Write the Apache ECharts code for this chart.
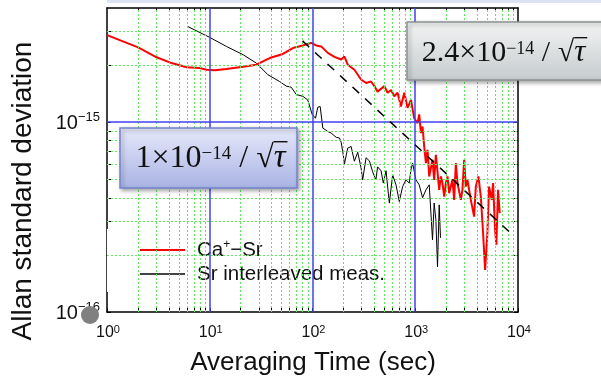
<!DOCTYPE html>
<html>
<head>
<meta charset="utf-8">
<script src="https://cdn.jsdelivr.net/npm/echarts@6/dist/echarts.min.js"></script>
<style>
  html, body { margin: 0; padding: 0; background: #fff; }
  #chart { width: 601px; height: 378px; }
</style>
</head>
<body>
<div id="chart"></div>
<script>
// Allan deviation of the Ca+ - Sr comparison and of the Sr interleaved measurement
const tauCaSr = [1, 2.01, 3.04, 4.25, 5.94, 8.0, 9.29, 11.2, 14.5, 21.1, 28.4, 38.3, 51.5, 64.4, 80.5, 97.1,
  108.6, 121.4, 140.8, 163.6, 190, 204.6, 220.2, 255.7, 297, 332, 371, 400, 430, 500, 538, 581, 625, 673,
  726, 782, 842, 908, 977, 1053, 1093, 1136, 1178, 1222, 1270, 1316, 1368, 1472, 1528, 1588, 1710, 1777,
  1841, 1914, 1986, 2060, 2138, 2302, 2392, 2484, 2575, 2780, 2879, 2992, 3105, 3220, 3475, 3741, 3884,
  4120, 4345, 4573, 4784, 5036, 5226, 5556, 5716, 5983, 6156, 6397, 6642];
const sigmaCaSr = [2.88e-15, 2.48e-15, 2.20e-15, 2.05e-15, 1.95e-15, 1.93e-15, 1.89e-15, 1.88e-15, 1.91e-15,
  1.96e-15, 2.01e-15, 2.18e-15, 2.29e-15, 2.46e-15, 2.54e-15, 2.62e-15, 2.54e-15, 2.51e-15, 2.32e-15,
  2.21e-15, 2.14e-15, 2.22e-15, 2.01e-15, 1.89e-15, 1.68e-15, 1.61e-15, 1.64e-15, 1.55e-15, 1.45e-15,
  1.55e-15, 1.43e-15, 1.48e-15, 1.37e-15, 1.43e-15, 1.21e-15, 1.43e-15, 1.19e-15, 1.31e-15, 1.05e-15,
  0.99e-15, 1.10e-15, 0.877e-15, 0.95e-15, 0.745e-15, 0.609e-15, 0.716e-15, 0.518e-15, 0.634e-15,
  0.497e-15, 0.674e-15, 0.440e-15, 0.518e-15, 0.478e-15, 0.406e-15, 0.478e-15, 0.518e-15, 0.423e-15,
  0.497e-15, 0.390e-15, 0.609e-15, 0.478e-15, 0.390e-15, 0.440e-15, 0.634e-15, 0.458e-15, 0.497e-15,
  0.390e-15, 0.318e-15, 0.458e-15, 0.518e-15, 0.406e-15, 0.260e-15, 0.1665e-15, 0.260e-15, 0.458e-15,
  0.390e-15, 0.478e-15, 0.271e-15, 0.226e-15, 0.440e-15, 0.332e-15];

const tauSr = [6.07, 10.0, 14.5, 21.1, 28.4, 36.8, 47.8, 55.6, 62.1, 69.5, 80.5, 90.0, 99.3, 107, 112.5,
  118.8, 126, 140.8, 152, 170, 183, 190, 197, 204.6, 220.2, 237.6, 255.7, 275.4, 297, 307.7, 332, 357.5,
  385, 414, 430, 464.5, 489, 519.6, 559.5, 602.6, 649.6, 699.6, 753.4, 812, 874, 908, 942, 1016, 1093,
  1178, 1270, 1368, 1472, 1528, 1588, 1647, 1710, 1761];
const sigmaSr = [3.20e-15, 2.80e-15, 2.51e-15, 2.27e-15, 2.05e-15, 1.78e-15, 1.64e-15, 1.55e-15, 1.53e-15,
  1.40e-15, 1.37e-15, 1.31e-15, 1.10e-15, 1.05e-15, 1.20e-15, 1.21e-15, 0.932e-15, 0.894e-15, 0.877e-15,
  0.833e-15, 0.826e-15, 0.784e-15, 0.701e-15, 0.604e-15, 0.731e-15, 0.745e-15, 0.623e-15, 0.695e-15,
  0.575e-15, 0.497e-15, 0.650e-15, 0.626e-15, 0.548e-15, 0.497e-15, 0.582e-15, 0.555e-15, 0.478e-15,
  0.555e-15, 0.375e-15, 0.528e-15, 0.468e-15, 0.382e-15, 0.458e-15, 0.497e-15, 0.478e-15, 0.561e-15,
  0.609e-15, 0.497e-15, 0.468e-15, 0.400e-15, 0.440e-15, 0.468e-15, 0.240e-15, 0.375e-15, 0.306e-15,
  0.173e-15, 0.367e-15, 0.246e-15];

// white-frequency-noise guide line: sigma = FIT_COEF / sqrt(tau)
const FIT_COEF = 2.4e-14;
const fitTau = [80, 8200];

// axis decades and log-paper subdivisions
const xDecades = [1, 10, 100, 1000, 10000];
const yDecades = [1e-16, 1e-15];
const mantissas = [2, 3, 4, 5, 6, 7, 8, 9];
const X_MIN = 1, X_MAX = 1e4, Y_MIN = 1e-16, Y_MAX = 4e-15;

const xMinor = [];
[1, 10, 100, 1000].forEach(d => mantissas.forEach(m => xMinor.push(m * d)));
const yMinor = [];
[1e-16, 1e-15].forEach(d => mantissas.forEach(m => { if (m * d < Y_MAX * 0.999) yMinor.push(m * d); }));
const xInnerMajor = xDecades.slice(1, -1);
const yInnerMajor = [1e-15];

const pairs = (xs, ys) => xs.map((x, i) => [x, ys[i]]);
const fitData = fitTau.map(t => [t, FIT_COEF / Math.sqrt(t)]);

const exponentOf = v => Math.round(Math.log10(v));
const expText = v => { const e = exponentOf(v); return e < 0 ? '\u2212' + (-e) : String(e); };

const SANS_NAME = 'Liberation Sans';
const SERIF_NAME = 'Liberation Serif';
const SANS = '"Liberation Sans", Arial, sans-serif';

const gridLine = (list, key, style) => list.map(v => ({ [key]: v, lineStyle: style }));
const greenDot = { color: '#5ee85e', width: 1, type: [2, 2] };
const blueLine = { color: '#4040f2', width: 1.5, type: 'solid' };

const chart = echarts.init(document.getElementById('chart'), null, { renderer: 'canvas' });

const tickStyle = { show: true, inside: true, length: 4, lineStyle: { color: '#000', width: 1 } };
const frameAxis = (extra) => Object.assign({
  axisLine: { show: true, lineStyle: { color: '#000', width: 1.5 } },
  axisLabel: { show: false }, splitLine: { show: false }, minorTick: { show: false }
}, extra);

chart.setOption({
  animation: false,
  backgroundColor: '#fff',
  grid: { left: 107, right: 83, top: 8, bottom: 66, outerBoundsMode: 'none', containLabel: false },
  xAxis: [
    frameAxis({ type: 'log', logBase: 10, min: X_MIN, max: X_MAX, position: 'bottom',
      axisTick: Object.assign({ customValues: xMinor.concat(xDecades) }, tickStyle) }),
    frameAxis({ type: 'log', logBase: 10, min: X_MIN, max: X_MAX, position: 'top',
      axisTick: Object.assign({ customValues: xMinor }, tickStyle) })
  ],
  yAxis: [
    frameAxis({ type: 'log', logBase: 10, min: Y_MIN, max: Y_MAX, position: 'left',
      axisTick: Object.assign({ customValues: yMinor.concat(yDecades) }, tickStyle) }),
    frameAxis({ type: 'log', logBase: 10, min: Y_MIN, max: Y_MAX, position: 'right',
      axisTick: Object.assign({ customValues: yMinor.concat(yDecades) }, tickStyle) })
  ],
  legend: {
    data: [
      { name: 'Ca+\u2212Sr', icon: 'rect', itemStyle: { color: '#ff0000' } },
      { name: 'Sr interleaved meas.', icon: 'rect', itemStyle: { color: '#444' } }
    ],
    orient: 'vertical', left: 107, top: 229,
    backgroundColor: '#fff', padding: [10, 29, 7, 33],
    itemWidth: 45, itemHeight: 2, itemGap: 2,
    formatter: name => name === 'Ca+\u2212Sr' ? '{n|Ca}{s|+}{n|\u2212Sr}' : '{n|' + name + '}',
    textStyle: {
      color: '#111', fontFamily: SANS, fontSize: 20.5, lineHeight: 22,
      rich: {
        n: { fontFamily: SANS, fontSize: 20.5, color: '#111', lineHeight: 22, verticalAlign: 'bottom' },
        s: { fontFamily: SANS, fontSize: 12, color: '#111', lineHeight: 12, verticalAlign: 'top' }
      },
      padding: [0, 0, 0, 7]
    }
  },
  series: [
    {
      // log-paper grid
      type: 'line', data: [], silent: true, z: 1, xAxisIndex: 0, yAxisIndex: 0,
      markLine: {
        silent: true, symbol: 'none', label: { show: false }, animation: false, precision: 20,
        data: [].concat(
          gridLine(xMinor, 'xAxis', greenDot),
          gridLine(yMinor, 'yAxis', greenDot),
          gridLine(xInnerMajor, 'xAxis', blueLine),
          gridLine(yInnerMajor, 'yAxis', blueLine)
        )
      }
    },
    {
      name: 'Ca+\u2212Sr', type: 'line', data: pairs(tauCaSr, sigmaCaSr), z: 4,
      showSymbol: false, symbol: 'none', smooth: false,
      lineStyle: { color: '#ff0000', width: 2 }, itemStyle: { color: '#ff0000' }
    },
    {
      name: 'Sr interleaved meas.', type: 'line', data: pairs(tauSr, sigmaSr), z: 3,
      showSymbol: false, symbol: 'none',
      lineStyle: { color: '#000', width: 1 }, itemStyle: { color: '#444' }
    },
    {
      type: 'line', data: fitData, z: 5, showSymbol: false, symbol: 'none', silent: true,
      lineStyle: { color: '#000', width: 1.5, type: [9, 8] }
    }
  ]
});

// ---- text drawn on top of the chart: tick labels, titles and formula boxes ----
const measureCtx = document.createElement('canvas').getContext('2d');
measureCtx.textBaseline = 'middle';
const cssFont = (family, size, italic) => (italic ? 'italic ' : '') + size + 'px "' + family + '"';
const measure = (text, family, size, italic) => {
  measureCtx.font = cssFont(family, size, italic);
  return measureCtx.measureText(text);
};
const textEl = (text, x, y, family, size, italic, z) => ({
  type: 'text', z: z || 100, x: x, y: y,
  style: { text: text, fontFamily: family, fontSize: size, fontStyle: italic ? 'italic' : 'normal',
           fill: '#111', align: 'left', verticalAlign: 'middle' }
});

// power-of-ten tick label: "10" with a raised exponent
function powerLabel(v, x, y, size, expSize, align, lift) {
  const e = expText(v);
  const wBase = measure('10', SANS_NAME, size).width, wSup = measure(e, SANS_NAME, expSize).width;
  const total = wBase + wSup;
  const left = align === 'right' ? x - total : x - total / 2;
  return [
    textEl('10', left, y, SANS_NAME, size),
    textEl(e, left + wBase, y - lift, SANS_NAME, expSize)
  ];
}

// "c x 10^-14 / sqrt(tau)" with a drawn vinculum over tau
function formula(coef, cx, cy, size, expSize) {
  const parts = [
    [coef + '\u00d710', size, false, 0],
    ['\u221214', expSize, false, -size * 0.14],
    [' / ', size, false, 0],
    ['\u221a', size, false, 0],
    ['\u03c4', size + 1, true, 0]
  ];
  const widths = parts.map(p => measure(p[0], SERIF_NAME, p[1], p[2]).width);
  const total = widths.reduce((a, b) => a + b, 0);
  let x = cx - total / 2;
  const out = [], xs = [];
  parts.forEach((p, i) => {
    xs.push(x);
    out.push(textEl(p[0], x, cy + p[3], SERIF_NAME, p[1], p[2], 102));
    x += widths[i];
  });
  const rad = measure('\u221a', SERIF_NAME, size);
  const top = cy - rad.actualBoundingBoxAscent + 0.8;
  out.push({ type: 'line', z: 102,
    shape: { x1: xs[3] + rad.actualBoundingBoxRight - 0.5, y1: top, x2: xs[4] + widths[4] + 2, y2: top },
    style: { stroke: '#111', lineWidth: 1.4 } });
  return out;
}

function boxRect(x, y, w, h, c0, c1, stroke) {
  return { type: 'rect', z: 101, shape: { x: x, y: y, width: w, height: h },
    style: {
      fill: { type: 'linear', x: 0, y: 0, x2: 0, y2: 1, colorStops: [{ offset: 0, color: c0 }, { offset: 1, color: c1 }] },
      stroke: stroke, lineWidth: 1.5,
      shadowBlur: 4, shadowColor: 'rgba(0,0,0,0.35)', shadowOffsetX: 2, shadowOffsetY: 2
    } };
}

const px = v => chart.convertToPixel({ xAxisIndex: 0 }, v);
const py = v => chart.convertToPixel({ yAxisIndex: 0 }, v);
const yBottom = py(Y_MIN), xLeft = px(X_MIN);

let graphics = [
  { type: 'rect', z: 0, shape: { x: xLeft, y: 0, width: 601 - xLeft, height: 3 }, style: { fill: '#dde3f7' } }
];
xDecades.forEach(v => { graphics = graphics.concat(powerLabel(v, px(v) + 1, yBottom + 21, 16, 11, 'center', 3)); });
yDecades.forEach(v => { graphics = graphics.concat(powerLabel(v, xLeft - 7, py(v) + 1.5, 20, 13, 'right', 6)); });
graphics.push(
  { type: 'text', z: 100, x: 23, y: 191, rotation: Math.PI / 2,
    style: { text: 'Allan standard deviation', fontFamily: SANS_NAME, fontSize: 28, fill: '#111', align: 'center', verticalAlign: 'middle' } },
  { type: 'text', z: 100, x: 313, y: 363,
    style: { text: 'Averaging Time (sec)', fontFamily: SANS_NAME, fontSize: 26, fill: '#111', align: 'center', verticalAlign: 'middle' } },
  { type: 'circle', z: 103, shape: { cx: 90, cy: 315, r: 9 }, style: { fill: '#808080' } },
  boxRect(120, 128, 177, 60, '#e6e9fa', '#a9b3e4', '#7383cf'),
  boxRect(407, 22, 200, 58, '#f3f4f4', '#c6cbcd', '#8a9292')
);
graphics = graphics.concat(formula('1', 210.5, 158.5, 32, 19), formula('2.4', 503.5, 53, 30, 18));

chart.setOption({ graphic: graphics });
</script>
</body>
</html>
